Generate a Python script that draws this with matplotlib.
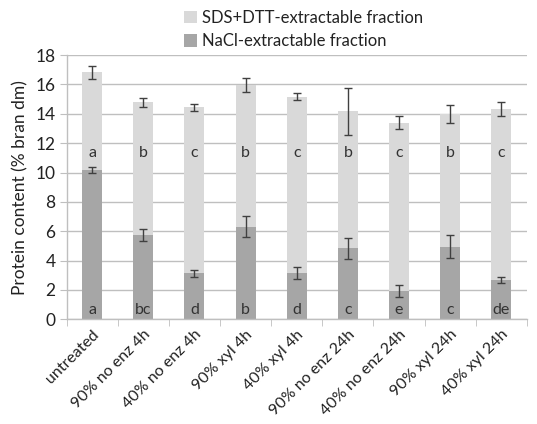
import matplotlib
matplotlib.use("Agg")
import matplotlib.pyplot as plt
import numpy as np

plt.rcParams['font.family'] = ['Lato', 'DejaVu Sans']

categories = ["untreated", "90% no enz 4h", "40% no enz 4h", "90% xyl 4h", "40% xyl 4h",
              "90% no enz 24h", "40% no enz 24h", "90% xyl 24h", "40% xyl 24h"]
nacl = [10.17, 5.74, 3.13, 6.31, 3.17, 4.84, 1.95, 4.95, 2.68]
nacl_err = [0.2, 0.4, 0.25, 0.7, 0.4, 0.7, 0.4, 0.8, 0.22]
sds = [6.65, 9.04, 11.31, 9.65, 11.99, 9.35, 11.44, 9.03, 11.65]
sds_err = [0.47, 0.32, 0.25, 0.5, 0.25, 1.6, 0.45, 0.62, 0.47]
nacl_letters = ["a", "bc", "d", "b", "d", "c", "e", "c", "de"]
sds_letters = ["a", "b", "c", "b", "c", "b", "c", "b", "c"]

c_sds = "#d9d9d9"
c_nacl = "#a6a6a6"

fig = plt.figure(figsize=(5.37, 4.24), dpi=100)
ax = fig.add_axes([0.124, 0.247, 0.857, 0.623])

x = np.arange(len(categories))
w = 0.39
nacl = np.array(nacl)
sds = np.array(sds)
top = nacl + sds

ax.bar(x, nacl, w, color=c_nacl, zorder=2, label="NaCl-extractable fraction")
ax.bar(x, sds, w, bottom=nacl, color=c_sds, zorder=2, label="SDS+DTT-extractable fraction")
ek = dict(fmt='none', ecolor='#404040', elinewidth=1.0, capsize=3, capthick=1.0, zorder=3)
ax.errorbar(x, nacl, yerr=nacl_err, **ek)
ax.errorbar(x, top, yerr=sds_err, **ek)

for i in range(len(x)):
    ax.text(x[i], 0.6, nacl_letters[i], ha='center', va='center', fontsize=11.5, color='#333333', zorder=4)
    ax.text(x[i], 11.3, sds_letters[i], ha='center', va='center', fontsize=11.5, color='#333333', zorder=4)

ax.set_ylim(0, 18)
ax.set_xlim(-0.5, len(x) - 0.5)
ax.set_yticks(np.arange(0, 19, 2))
ax.yaxis.grid(True, color='#bfbfbf', linewidth=1.0, zorder=0)
ax.set_axisbelow(True)
for s in ['top', 'right']:
    ax.spines[s].set_visible(False)
for s in ['bottom', 'left']:
    ax.spines[s].set_color('#bfbfbf')
    ax.spines[s].set_linewidth(1.0)
ax.tick_params(axis='y', length=5, color='#bfbfbf', labelsize=12.5, labelcolor='#222222', pad=3)

ax.set_xticks(x)
ax.set_xticklabels(categories, rotation=45, ha='right', rotation_mode='anchor', fontsize=11.5, color='#222222')
ax.set_xticks(np.arange(-0.5, len(x), 1), minor=True)
ax.tick_params(axis='x', which='major', length=0, pad=6)
ax.tick_params(axis='x', which='minor', length=5, color='#bfbfbf')

ax.set_ylabel("Protein content (% bran dm)", fontsize=12.5, color='#222222', labelpad=5)

handles, labels = ax.get_legend_handles_labels()
leg = fig.legend(handles[::-1], labels[::-1], loc='upper left', bbox_to_anchor=(0.315, 1.012),
                 frameon=False, fontsize=12, handlelength=0.75, handleheight=0.75,
                 handletextpad=0.35, labelspacing=0.45, labelcolor='#222222')

fig.savefig("out.png", dpi=100)
